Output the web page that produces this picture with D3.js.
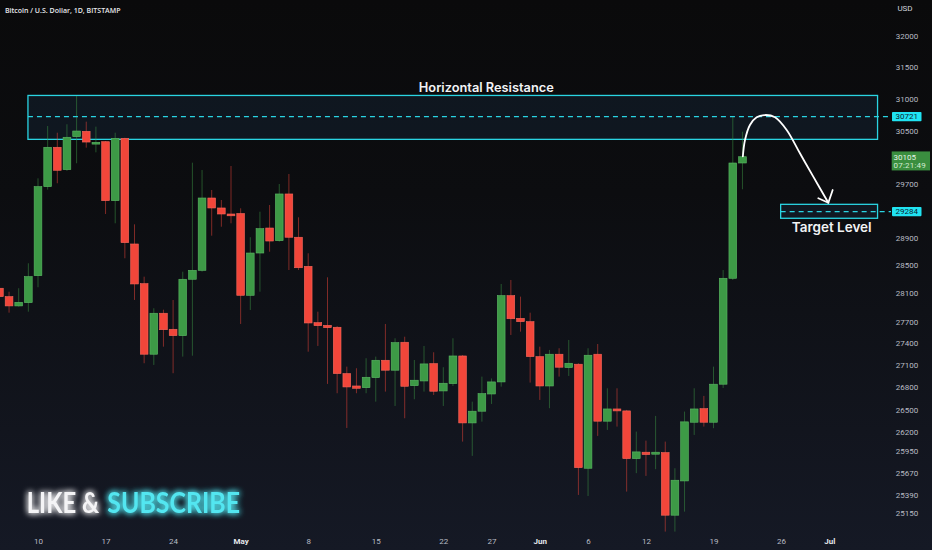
<!DOCTYPE html>
<html>
<head>
<meta charset="utf-8">
<script src="https://cdn.jsdelivr.net/npm/d3@7"></script>
<style>
  html, body { margin: 0; padding: 0; background: #0b0b0d; }
  svg { display: block; }
</style>
</head>
<body>
<svg id="chart" width="932" height="550"></svg>
<script>
// ---------------- DATA ----------------
const title = "Bitcoin / U.S. Dollar, 1D, BITSTAMP";
const currency = "USD";

const dates = [
  "2023-04-06","2023-04-07","2023-04-08","2023-04-09","2023-04-10","2023-04-11","2023-04-12","2023-04-13",
  "2023-04-14","2023-04-15","2023-04-16","2023-04-17","2023-04-18","2023-04-19","2023-04-20","2023-04-21",
  "2023-04-22","2023-04-23","2023-04-24","2023-04-25","2023-04-26","2023-04-27","2023-04-28","2023-04-29",
  "2023-04-30","2023-05-01","2023-05-02","2023-05-03","2023-05-04","2023-05-05","2023-05-06","2023-05-07",
  "2023-05-08","2023-05-09","2023-05-10","2023-05-11","2023-05-12","2023-05-13","2023-05-14","2023-05-15",
  "2023-05-16","2023-05-17","2023-05-18","2023-05-19","2023-05-20","2023-05-21","2023-05-22","2023-05-23",
  "2023-05-24","2023-05-25","2023-05-26","2023-05-27","2023-05-28","2023-05-29","2023-05-30","2023-05-31",
  "2023-06-01","2023-06-02","2023-06-03","2023-06-04","2023-06-05","2023-06-06","2023-06-07","2023-06-08",
  "2023-06-09","2023-06-10","2023-06-11","2023-06-12","2023-06-13","2023-06-14","2023-06-15","2023-06-16",
  "2023-06-17","2023-06-18","2023-06-19","2023-06-20","2023-06-21","2023-06-22"
];
const opens = [
  28173,28054,27923,27969,28352,29654,30249,29909,30411,30493,30310,30334,29445,30386,28809,28238,
  27251,27820,27596,27507,28301,28429,29485,29337,29248,29255,28073,28678,29042,28857,29545,28907,
  28486,27688,27651,27624,26986,26818,26795,26931,27168,27032,27416,26822,26886,27122,26751,26850,
  27227,26323,26479,26710,26873,28068,27749,27702,27218,26818,27251,27068,27114,25728,27251,26346,
  26509,26483,25853,25937,25911,25932,25126,25564,26332,26513,26332,26842,28315,30010
];
const highs = [
  28260,28124,28173,28530,29779,30575,30472,30602,31041,30642,30565,30345,30472,30395,29096,28338,
  27890,27870,28007,28409,30015,29904,29604,29455,29965,29332,28907,29282,29381,29694,29844,29199,
  28674,27842,28329,27640,27081,27059,27196,27218,27670,27471,27493,27172,27365,27278,27073,27471,
  27240,26607,26945,26920,28234,28291,28054,27828,27355,27310,27333,27448,27127,27333,27392,26787,
  26787,26496,26208,26089,26416,26076,25728,26474,26787,26684,27081,28433,30719,30488
];
const lows = [
  28007,27828,27913,27842,28187,29610,29705,29890,30006,30243,30172,29248,29111,28602,28007,27127,
  27104,27355,26991,27218,27231,28409,28930,29061,29111,27670,27866,28124,28697,28842,28433,28433,
  27286,27365,26846,26720,26256,26720,26720,26607,26742,26549,26385,26639,26742,26697,26549,26818,
  26076,25889,26340,26576,26809,27517,27563,26864,26630,26519,26945,26954,25384,25371,26151,26230,
  26274,25427,25664,25629,25716,24919,24919,25171,26164,26274,26253,26791,28290,29615
];
const closes = [
  28054,27923,27974,28338,29654,30249,29900,30402,30498,30329,30325,29445,30386,28828,28234,27251,
  27820,27590,27507,28301,28429,29485,29337,29248,29230,28073,28678,29032,28852,29545,28907,28466,
  27684,27646,27618,26986,26805,26787,26936,27168,27032,27410,26814,26896,27118,26747,26855,27227,
  26323,26479,26714,26873,28068,27743,27702,27218,26818,27251,27073,27127,25736,27237,26346,26509,
  26483,25853,25941,25906,25937,25126,25573,26337,26509,26332,26842,28315,30010,30105
];

// price axis ticks (log scale, as shown)
const yTicks = [32000,31500,31000,30500,29700,28900,28500,28100,27700,27400,27100,26800,26500,26200,25950,25670,25390,25150];
// time axis ticks
const xTickDates  = ["2023-04-10","2023-04-17","2023-04-24","2023-05-01","2023-05-08","2023-05-15","2023-05-22","2023-05-27","2023-06-01","2023-06-06","2023-06-12","2023-06-19","2023-06-26","2023-07-01"];
const xTickLabels = ["10","17","24","May","8","15","22","27","Jun","6","12","19","26","Jul"];
const monthLabels = ["May","Jun","Jul"];

// annotation zones (prices / times)
const resistanceZone = { top: 31050, bottom: 30370, level: 30721, from: "2023-04-08 23:00", to: "2023-07-06 00:00", label: "Horizontal Resistance" };
const targetZone     = { top: 29391, bottom: 29185, level: 29284, from: "2023-06-25 23:00", to: "2023-07-06 00:00", label: "Target Level" };
const currentPrice = 30105;
const countdown = "07:21:49";

// projected path (date-time, price)
const arrowPath = [
  ["2023-06-22 01:00",30110],["2023-06-22 06:20",30360],["2023-06-22 18:40",30591],
  ["2023-06-23 11:20",30710],["2023-06-24 08:10",30745],["2023-06-25 09:00",30710],
  ["2023-06-26 14:00",30514],["2023-06-27 23:00",30157],["2023-06-29 08:10",29804],
  ["2023-06-30 21:36",29415]
];
const arrowHead = [["2023-06-29 20:40",29481],["2023-06-30 21:36",29415],["2023-07-01 08:25",29604]];

// ---------------- DRAW ----------------
const W = 932, H = 550;
const parseDay = d3.timeParse("%Y-%m-%d");
const parseDT = d3.timeParse("%Y-%m-%d %H:%M");

const candles = dates.map((d, i) => ({ date: parseDay(d), o: opens[i], h: highs[i], l: lows[i], c: closes[i] }));

const x = d3.scaleTime().domain([parseDay("2023-04-10"), parseDay("2023-07-01")]).range([38, 829.3]);
const y = d3.scaleLog().domain([25150, 32000]).range([513.3, 35.7]);
const dayPx = x(parseDay("2023-04-11")) - x(parseDay("2023-04-10"));
const bodyW = dayPx * 0.8;

const svg = d3.select("#chart");
const defs = svg.append("defs");
const grad = defs.append("linearGradient").attr("id", "bg").attr("x1", 0).attr("y1", 0).attr("x2", 0).attr("y2", 1);
grad.append("stop").attr("offset", "0%").attr("stop-color", "#0a0a0b");
grad.append("stop").attr("offset", "35%").attr("stop-color", "#0c0d10");
grad.append("stop").attr("offset", "100%").attr("stop-color", "#151925");

const glow = defs.append("filter").attr("id", "glow").attr("x", "-20%").attr("y", "-50%").attr("width", "140%").attr("height", "200%");
glow.append("feGaussianBlur").attr("in", "SourceGraphic").attr("stdDeviation", 3).attr("result", "b");
const fm = glow.append("feMerge");
fm.append("feMergeNode").attr("in", "b");
fm.append("feMergeNode").attr("in", "b");
fm.append("feMergeNode").attr("in", "SourceGraphic");

svg.append("rect").attr("width", W).attr("height", H).attr("fill", "url(#bg)");

const CYAN = "#2ad4e2";
const GREEN = "#3d9a46";
const RED = "#f2463a";
const zones = [resistanceZone, targetZone];

// zones
zones.forEach(z => {
  const x0 = x(parseDT(z.from)), x1 = x(parseDT(z.to));
  svg.append("rect")
    .attr("x", x0).attr("y", y(z.top))
    .attr("width", x1 - x0).attr("height", y(z.bottom) - y(z.top))
    .attr("fill", "#1b3550").attr("fill-opacity", 0.28)
    .attr("stroke", CYAN).attr("stroke-width", 1.3);
});

// candles
const g = svg.append("g");
g.selectAll("line.wick").data(candles).join("line")
  .attr("x1", d => x(d.date)).attr("x2", d => x(d.date))
  .attr("y1", d => y(d.h)).attr("y2", d => y(d.l))
  .attr("stroke", d => d.c >= d.o ? GREEN : RED)
  .attr("stroke-opacity", 0.5).attr("stroke-width", 1);

g.selectAll("rect.body").data(candles).join("rect")
  .attr("x", d => x(d.date) - bodyW / 2)
  .attr("width", bodyW)
  .attr("y", d => y(Math.max(d.o, d.c)))
  .attr("height", d => Math.max(1.8, Math.abs(y(d.o) - y(d.c))))
  .attr("fill", d => d.c >= d.o ? GREEN : RED)
  .attr("stroke", d => d.c >= d.o ? "#5cb865" : "#f6685c")
  .attr("stroke-width", 0.6);

// dashed levels (over candles)
zones.forEach(z => {
  svg.append("line")
    .attr("x1", x(parseDT(z.from))).attr("x2", 891)
    .attr("y1", y(z.level)).attr("y2", y(z.level))
    .attr("stroke", CYAN).attr("stroke-width", 1.3)
    .attr("stroke-dasharray", "5,4");
});

// labels on zones
svg.append("text").attr("x", 486.3).attr("y", y(resistanceZone.top) - 3)
  .attr("text-anchor", "middle").attr("fill", "#f2f3f5")
  .attr("font-family", "Inter, 'Open Sans', sans-serif").attr("font-weight", 600).attr("font-size", 12.8)
  .text(resistanceZone.label);
svg.append("text").attr("x", 831.7).attr("y", y(targetZone.bottom) + 14)
  .attr("text-anchor", "middle").attr("fill", "#f2f3f5")
  .attr("font-family", "Inter, 'Open Sans', sans-serif").attr("font-weight", 600).attr("font-size", 13.5)
  .text(targetZone.label);

// projected arrow
const line = d3.line().x(d => x(parseDT(d[0]))).y(d => y(d[1])).curve(d3.curveCatmullRom.alpha(0.5));
svg.append("path").attr("d", line(arrowPath)).attr("fill", "none")
  .attr("stroke", "#ffffff").attr("stroke-width", 1.8).attr("stroke-linecap", "round");
svg.append("path").attr("d", d3.line().x(d => x(parseDT(d[0]))).y(d => y(d[1]))(arrowHead))
  .attr("fill", "none").attr("stroke", "#ffffff").attr("stroke-width", 1.8)
  .attr("stroke-linecap", "round").attr("stroke-linejoin", "round");

// y axis
const yAxis = d3.axisRight(y).tickValues(yTicks).tickSize(0).tickPadding(0).tickFormat(d3.format("d"));
const ya = svg.append("g").attr("transform", "translate(907,0)").call(yAxis);
ya.select(".domain").remove();
ya.selectAll("text").attr("text-anchor", "middle").attr("fill", "#b9bcc4")
  .attr("font-family", "Roboto, 'Open Sans', sans-serif").attr("font-size", 8);

svg.append("text").attr("x", 905).attr("y", 11).attr("text-anchor", "middle")
  .attr("fill", "#d1d4dc").attr("font-family", "Roboto, sans-serif").attr("font-size", 8).text(currency);

// price tags
function tag(price, fill, label, textFill) {
  const cy = y(price);
  svg.append("rect").attr("x", 892).attr("y", cy - 4.6).attr("width", 29.5).attr("height", 9.2).attr("rx", 0.8).attr("fill", fill);
  svg.append("text").attr("x", 906.7).attr("y", cy + 2.9).attr("text-anchor", "middle")
    .attr("fill", textFill).attr("font-family", "Roboto, sans-serif").attr("font-size", 8).text(label);
}
tag(resistanceZone.level, "#20e3f2", String(resistanceZone.level), "#0d2430");
tag(targetZone.level, "#20e3f2", String(targetZone.level), "#0d2430");

const cpY = y(currentPrice);
svg.append("rect").attr("x", 891.7).attr("y", cpY - 5.3).attr("width", 38.3).attr("height", 19).attr("fill", "#3a8e3f");
svg.append("text").attr("x", 893.5).attr("y", cpY + 2.8).attr("fill", "#e4f3e4")
  .attr("font-family", "Roboto, sans-serif").attr("font-size", 8).text(String(currentPrice));
svg.append("text").attr("x", 893.5).attr("y", cpY + 11.2).attr("fill", "#d2ecd2")
  .attr("font-family", "Roboto, sans-serif").attr("font-size", 8).attr("letter-spacing", 0.2).text(countdown);

// x axis
const xa = svg.append("g").attr("transform", "translate(0,538)")
  .call(d3.axisBottom(x).tickValues(xTickDates.map(parseDay)).tickSize(0).tickPadding(0)
    .tickFormat((d, i) => xTickLabels[i]));
xa.select(".domain").remove();
xa.selectAll("text")
  .attr("dy", "0.71em")
  .attr("fill", (d, i) => monthLabels.includes(xTickLabels[i]) ? "#e6e8ec" : "#b9bcc4")
  .attr("font-weight", (d, i) => monthLabels.includes(xTickLabels[i]) ? 700 : 400)
  .attr("font-family", "Roboto, 'Open Sans', sans-serif").attr("font-size", 8);

// title
svg.append("text").attr("x", 5).attr("y", 12.5).attr("fill", "#e8e9ec")
  .attr("font-family", "'Open Sans', Roboto, sans-serif").attr("font-weight", 600).attr("font-size", 7.8)
  .attr("textLength", 115.5).attr("lengthAdjust", "spacingAndGlyphs").text(title);

// LIKE & SUBSCRIBE
const cta = svg.append("g").attr("filter", "url(#glow)");
cta.append("text").attr("x", 26.7).attr("y", 513.3).attr("fill", "#f4f4f6")
  .attr("font-family", "Lato, 'Open Sans', sans-serif").attr("font-weight", 700).attr("font-size", 29)
  .attr("textLength", 72.6).attr("lengthAdjust", "spacingAndGlyphs").text("LIKE &");
cta.append("text").attr("x", 107.3).attr("y", 513.3).attr("fill", "#52e6f0")
  .attr("font-family", "Lato, 'Open Sans', sans-serif").attr("font-weight", 700).attr("font-size", 29)
  .attr("textLength", 132.7).attr("lengthAdjust", "spacingAndGlyphs").text("SUBSCRIBE");
</script>
</body>
</html>
